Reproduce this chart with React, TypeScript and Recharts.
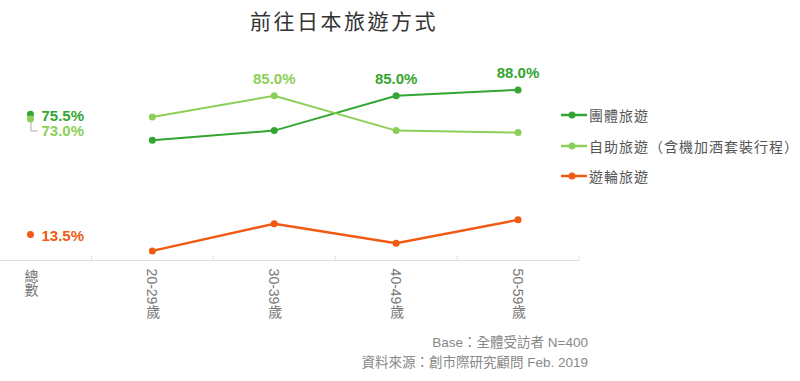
import { LabelList, Line, LineChart, XAxis, YAxis } from "recharts"

const categories = ["總數", "20-29歲", "30-39歲", "40-49歲", "50-59歲"]
const groupTour = [75.5, 62, 67, 85, 88]
const selfTour = [73, 74, 85, 67, 66]
const cruiseTour = [13.5, 5, 19, 9, 21]
// which age points carry a value label
const groupLabeled = [3, 4]
const selfLabeled = [2]
const cruiseLabeled: number[] = []
// category centres get a label, the half steps get the little boundary tick
const axisTicks = [0, 0.5, 1, 1.5, 2, 2.5, 3, 3.5, 4, 4.5]

const series = [
  { key: "group", name: "團體旅遊", color: "#33a532", values: groupTour, labeled: groupLabeled, width: 2 },
  { key: "self", name: "自助旅遊（含機加酒套裝行程）", color: "#8ccf58", values: selfTour, labeled: selfLabeled, width: 2 },
  { key: "cruise", name: "遊輪旅遊", color: "#f05a12", values: cruiseTour, labeled: cruiseLabeled, width: 2.5 },
]

const data = categories.map((name, i) => {
  const row: Record<string, any> = { x: i, name }
  series.forEach((s) => {
    row[s.key + "Total"] = i === 0 ? s.values[i] : null
    row[s.key] = i > 0 ? s.values[i] : null
    row[s.key + "Label"] = s.labeled.includes(i) ? s.values[i] : null
  })
  return row
})

const font = '"Liberation Sans", Arial, "Noto Sans CJK TC", sans-serif'

const AxisTick = (props: any) => {
  const { x, y, payload } = props
  const v = payload.value
  if (!Number.isInteger(v)) {
    return <line x1={x} x2={x} y1={y - 5} y2={y} stroke="#ddd" strokeWidth={1} />
  }
  return (
    <text
      x={x}
      y={y + 8}
      fill="#777"
      fontSize={14}
      fontFamily={font}
      textAnchor="start"
      style={{ writingMode: "vertical-rl" }}
    >
      {categories[v]}
    </text>
  )
}

const pointLabel = (color: string) => (props: any) => {
  const { x, y, value } = props
  if (value == null) return null
  return (
    <text x={x} y={y - 12} fill={color} fontSize={15} fontWeight="bold" fontFamily={font} textAnchor="middle">
      {value.toFixed(1)}%
    </text>
  )
}

const totalLabel = (color: string, shifted: boolean) => (props: any) => {
  const { x, y, value } = props
  if (value == null) return null
  const dy = shifted ? 12 : 1.3
  return (
    <g>
      {shifted && (
        <polyline
          points={`${x + 0.5},${y + 3} ${x + 0.5},${y + dy} ${x + 7},${y + dy}`}
          fill="none"
          stroke="#aaa"
          strokeWidth={1}
        />
      )}
      <text x={x + 11} y={y + dy + 5.3} fill={color} fontSize={15} fontWeight="bold" fontFamily={font}>
        {value.toFixed(1)}%
      </text>
    </g>
  )
}

export default function App() {
  return (
    <div style={{ position: "absolute", left: 0, top: 0, width: 800, height: 381, background: "#fff", fontFamily: font }}>
      <div
        style={{
          position: "absolute",
          left: 234,
          width: 220,
          top: 11,
          textAlign: "center",
          fontSize: 21,
          lineHeight: "21px",
          letterSpacing: 2.5,
          color: "#333",
        }}
      >
        前往日本旅遊方式
      </div>

      <LineChart width={800} height={381} data={data} margin={{ top: 66.6, right: 221, bottom: 60.4, left: 0 }}>
        <XAxis
          dataKey="x"
          type="number"
          domain={[-0.25, 4.5]}
          ticks={axisTicks}
          tick={<AxisTick />}
          tickSize={0}
          tickMargin={0}
          tickLine={false}
          axisLine={{ stroke: "#ddd" }}
          height={60}
          interval={0}
          allowDataOverflow
        />
        <YAxis hide domain={[0, 100]} />
        {series.map((s) => (
          <Line
            key={s.key}
            dataKey={s.key}
            stroke={s.color}
            strokeWidth={s.width}
            dot={{ r: 3.5, fill: s.color, stroke: "none" }}
            activeDot={false}
            isAnimationActive={false}
          >
            <LabelList dataKey={s.key + "Label"} content={pointLabel(s.color)} />
          </Line>
        ))}
        {series.map((s) => (
          <Line
            key={s.key + "Total"}
            dataKey={s.key + "Total"}
            stroke="none"
            dot={{ r: 3.5, fill: s.color, stroke: "none" }}
            activeDot={false}
            isAnimationActive={false}
          >
            <LabelList dataKey={s.key + "Total"} content={totalLabel(s.color, s.key === "self")} />
          </Line>
        ))}
      </LineChart>

      <div style={{ position: "absolute", left: 560, top: 100 }}>
        {series.map((s) => (
          <div key={s.key} style={{ display: "flex", alignItems: "center", height: 30.5 }}>
            <svg width={29} height={10}>
              <line x1={1} x2={27} y1={5} y2={5} stroke={s.color} strokeWidth={2.5} />
              <circle cx={12} cy={5} r={3.5} fill={s.color} />
            </svg>
            <span style={{ fontSize: 14, letterSpacing: 1, color: "#555", whiteSpace: "nowrap" }}>{s.name}</span>
          </div>
        ))}
      </div>

      <div
        style={{
          position: "absolute",
          left: 0,
          width: 588,
          top: 333,
          textAlign: "right",
          fontSize: 13.5,
          lineHeight: "20px",
          color: "#888",
        }}
      >
        <div>Base：全體受訪者 N=400</div>
        <div>資料來源：創市際研究顧問 Feb. 2019</div>
      </div>
    </div>
  )
}
